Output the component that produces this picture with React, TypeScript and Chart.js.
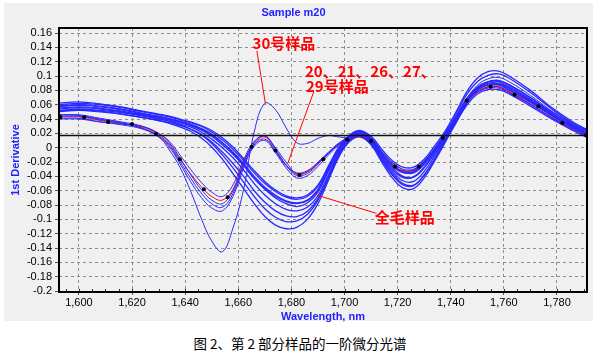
import React, { useEffect, useRef } from 'react';
import { Chart, registerables } from 'chart.js';

Chart.register(...registerables);

// Wavelength grid (nm) shared by all spectra
const WAVELENGTHS = [
  1592, 1600, 1608, 1616, 1624, 1630, 1634, 1638, 1642, 1646, 1650, 1654, 1658, 1662,
  1666, 1670, 1674, 1678, 1682, 1686, 1690, 1694, 1698, 1702, 1706, 1710, 1714, 1718,
  1722, 1726, 1730, 1734, 1738, 1742, 1746, 1750, 1754, 1758, 1762, 1770, 1778, 1786, 1791,
];

// 全毛样品 (wool samples)
const WOOL_1 = [0.055, 0.057, 0.055, 0.051, 0.046, 0.042, 0.039, 0.035, 0.031, 0.025, 0.016, 0.004, -0.009, -0.025, -0.043, -0.058, -0.070, -0.078, -0.082, -0.077, -0.062, -0.032, -0.003, 0.014, 0.020, 0.010, -0.011, -0.028, -0.040, -0.041, -0.028, -0.008, 0.015, 0.040, 0.065, 0.081, 0.088, 0.088, 0.081, 0.064, 0.045, 0.029, 0.020];
const WOOL_2 = [0.060, 0.062, 0.060, 0.056, 0.050, 0.046, 0.043, 0.039, 0.035, 0.030, 0.022, 0.011, -0.002, -0.018, -0.035, -0.050, -0.061, -0.069, -0.072, -0.068, -0.054, -0.027, 0.000, 0.017, 0.023, 0.014, -0.005, -0.021, -0.030, -0.030, -0.019, -0.001, 0.019, 0.043, 0.068, 0.084, 0.092, 0.093, 0.087, 0.070, 0.050, 0.033, 0.024];
const WOOL_3 = [0.052, 0.054, 0.052, 0.049, 0.044, 0.040, 0.037, 0.033, 0.029, 0.022, 0.012, 0.000, -0.014, -0.031, -0.050, -0.066, -0.078, -0.086, -0.088, -0.083, -0.067, -0.037, -0.006, 0.012, 0.018, 0.008, -0.014, -0.033, -0.046, -0.047, -0.033, -0.011, 0.013, 0.038, 0.062, 0.078, 0.085, 0.085, 0.078, 0.061, 0.042, 0.026, 0.017];
const WOOL_4 = [0.058, 0.060, 0.058, 0.054, 0.048, 0.044, 0.041, 0.037, 0.033, 0.027, 0.019, 0.007, -0.006, -0.022, -0.040, -0.055, -0.066, -0.074, -0.077, -0.073, -0.058, -0.030, -0.002, 0.015, 0.021, 0.012, -0.008, -0.024, -0.034, -0.035, -0.023, -0.004, 0.017, 0.041, 0.066, 0.083, 0.090, 0.090, 0.084, 0.067, 0.047, 0.031, 0.022];
const WOOL_5 = [0.050, 0.052, 0.050, 0.047, 0.042, 0.038, 0.035, 0.031, 0.026, 0.019, 0.008, -0.006, -0.022, -0.040, -0.060, -0.076, -0.088, -0.095, -0.096, -0.089, -0.071, -0.040, -0.008, 0.011, 0.016, 0.006, -0.017, -0.038, -0.052, -0.053, -0.038, -0.015, 0.010, 0.035, 0.059, 0.075, 0.081, 0.081, 0.075, 0.058, 0.040, 0.024, 0.015];
const WOOL_6 = [0.054, 0.056, 0.054, 0.050, 0.045, 0.041, 0.037, 0.032, 0.026, 0.018, 0.006, -0.010, -0.028, -0.048, -0.068, -0.085, -0.097, -0.103, -0.102, -0.093, -0.073, -0.042, -0.010, 0.010, 0.016, 0.006, -0.016, -0.036, -0.050, -0.052, -0.038, -0.015, 0.011, 0.037, 0.063, 0.080, 0.088, 0.089, 0.083, 0.066, 0.046, 0.029, 0.019];
const WOOL_7 = [0.051, 0.053, 0.051, 0.047, 0.042, 0.038, 0.034, 0.029, 0.023, 0.014, 0.001, -0.016, -0.036, -0.057, -0.078, -0.096, -0.108, -0.113, -0.111, -0.100, -0.078, -0.045, -0.012, 0.009, 0.015, 0.004, -0.020, -0.042, -0.056, -0.057, -0.042, -0.018, 0.008, 0.035, 0.062, 0.082, 0.092, 0.094, 0.088, 0.070, 0.048, 0.030, 0.020];
const WOOL_8 = [0.062, 0.064, 0.061, 0.057, 0.051, 0.047, 0.044, 0.040, 0.036, 0.031, 0.024, 0.014, 0.001, -0.015, -0.032, -0.047, -0.059, -0.067, -0.070, -0.066, -0.052, -0.025, 0.002, 0.018, 0.024, 0.016, -0.002, -0.018, -0.027, -0.027, -0.016, 0.003, 0.024, 0.050, 0.078, 0.097, 0.106, 0.107, 0.100, 0.080, 0.056, 0.036, 0.026];
const WOOL_9 = [0.057, 0.059, 0.057, 0.053, 0.047, 0.043, 0.040, 0.036, 0.032, 0.026, 0.018, 0.007, -0.007, -0.024, -0.042, -0.057, -0.068, -0.075, -0.078, -0.074, -0.059, -0.031, -0.003, 0.015, 0.022, 0.013, -0.007, -0.024, -0.033, -0.033, -0.021, -0.001, 0.021, 0.047, 0.074, 0.092, 0.101, 0.103, 0.097, 0.077, 0.054, 0.034, 0.025];

// 20、21、26、27、29号样品
const GROUP_B_1 = [0.046, 0.046, 0.041, 0.036, 0.030, 0.020, 0.007, -0.014, -0.037, -0.058, -0.073, -0.078, -0.060, -0.022, 0.007, 0.017, -0.002, -0.024, -0.039, -0.036, -0.023, -0.008, 0.006, 0.014, 0.018, 0.010, -0.009, -0.026, -0.035, -0.034, -0.022, -0.003, 0.016, 0.041, 0.065, 0.080, 0.087, 0.087, 0.080, 0.064, 0.045, 0.028, 0.019];
const GROUP_B_2 = [0.041, 0.041, 0.036, 0.032, 0.026, 0.016, 0.003, -0.019, -0.042, -0.063, -0.078, -0.083, -0.064, -0.025, 0.004, 0.012, -0.005, -0.025, -0.035, -0.032, -0.020, -0.006, 0.007, 0.015, 0.019, 0.011, -0.008, -0.025, -0.034, -0.033, -0.021, -0.002, 0.017, 0.042, 0.066, 0.081, 0.088, 0.088, 0.081, 0.065, 0.046, 0.029, 0.020];
const GROUP_B_3 = [0.044, 0.044, 0.039, 0.034, 0.027, 0.015, 0.001, -0.022, -0.047, -0.069, -0.084, -0.088, -0.068, -0.028, 0.002, 0.010, -0.007, -0.028, -0.042, -0.039, -0.026, -0.010, 0.004, 0.013, 0.017, 0.008, -0.012, -0.031, -0.042, -0.041, -0.028, -0.007, 0.013, 0.038, 0.062, 0.077, 0.083, 0.083, 0.076, 0.060, 0.042, 0.026, 0.017];
const GROUP_B_4 = [0.040, 0.040, 0.036, 0.033, 0.029, 0.020, 0.009, -0.010, -0.030, -0.048, -0.062, -0.068, -0.052, -0.017, 0.009, 0.016, 0.000, -0.020, -0.036, -0.033, -0.021, -0.007, 0.006, 0.014, 0.018, 0.010, -0.008, -0.024, -0.032, -0.031, -0.019, 0.000, 0.019, 0.044, 0.069, 0.085, 0.092, 0.092, 0.085, 0.068, 0.048, 0.030, 0.021];

// highlighted (red) sample
const RED_SAMPLE = [0.043, 0.043, 0.038, 0.034, 0.029, 0.018, 0.005, -0.016, -0.036, -0.054, -0.068, -0.073, -0.058, -0.020, 0.006, 0.015, -0.004, -0.024, -0.037, -0.034, -0.022, -0.008, 0.005, 0.013, 0.016, 0.009, -0.008, -0.024, -0.032, -0.031, -0.020, -0.002, 0.016, 0.040, 0.064, 0.078, 0.085, 0.085, 0.078, 0.063, 0.044, 0.027, 0.018];

// 30号样品
const SAMPLE_30 = [0.046, 0.045, 0.040, 0.035, 0.027, 0.016, -0.003, -0.027, -0.060, -0.098, -0.130, -0.145, -0.112, -0.058, 0.022, 0.062, 0.053, 0.028, 0.007, 0.006, 0.013, 0.017, 0.015, 0.014, 0.019, 0.010, -0.011, -0.030, -0.041, -0.040, -0.026, -0.005, 0.016, 0.042, 0.068, 0.087, 0.096, 0.098, 0.092, 0.073, 0.051, 0.032, 0.022];

// marker points on the red sample
const DOT_WL = [1593, 1602, 1611, 1620, 1629, 1638, 1647, 1656, 1665, 1674, 1683, 1692, 1701, 1710, 1719, 1728, 1737, 1746, 1755, 1764, 1773, 1782, 1791];
const DOT_VALUES = [0.043, 0.0425, 0.036, 0.033, 0.019, -0.016, -0.058, -0.069, 0.0014, -0.004, -0.038, -0.016, 0.0115, 0.0095, -0.0265, -0.0265, 0.0135, 0.066, 0.085, 0.074, 0.058, 0.0345, 0.0175];

const BASELINE = 0.017;
const X_MIN = 1592.5;
const X_MAX = 1791.3;
const Y_MIN = -0.2012;
const Y_MAX = 0.167;

const NOTE_TEXTS = ['30号样品', '20、21、26、27、', '29号样品', '全毛样品'];
const NOTE_X = [1665.4, 1685.1, 1685.5, 1711.4];
const NOTE_Y = [0.146, 0.107, 0.086, -0.0973];
const LEADERS = [
  [1667.0, 0.135, 1670.2, 0.062],
  [1688.4, 0.078, 1678.7, -0.021],
  [1689.5, -0.066, 1712.0, -0.0915],
];

const TITLE = 'Sample m20';
const X_TITLE = 'Wavelength, nm';
const Y_TITLE = '1st Derivative';
const CAPTION = '图 2、第 2 部分样品的一阶微分光谱';

const BLUE = 'rgb(40,40,255)';
const AXIS_BLUE = 'rgb(30,30,255)';
const FONT = '"Liberation Sans", Arial, sans-serif';

export default function App() {
  const canvasRef = useRef<HTMLCanvasElement | null>(null);

  useEffect(() => {
    const canvas = canvasRef.current;
    if (!canvas) return;
    const pts = (vals: number[]) => WAVELENGTHS.map((x, i) => ({ x, y: vals[i] }));
    const blueLine = (label: string, vals: number[], width = 1.3) => ({
      label,
      data: pts(vals),
      borderColor: BLUE,
      borderWidth: width,
      pointRadius: 0,
      tension: 0.4,
      fill: false,
    });

    const overlay = {
      id: 'overlay',
      afterDatasetsDraw(chart: any) {
        const { ctx, chartArea, scales } = chart;
        const xs = scales.x;
        const ys = scales.y;
        ctx.save();
        // minor ticks on x axis
        ctx.strokeStyle = '#333';
        ctx.lineWidth = 1;
        for (let w = 1595; w <= 1790; w += 5) {
          const px = Math.round(xs.getPixelForValue(w)) + 0.5;
          ctx.beginPath();
          ctx.moveTo(px, chartArea.bottom);
          ctx.lineTo(px, chartArea.bottom - 3);
          ctx.stroke();
        }
        // frame
        ctx.strokeStyle = '#000';
        ctx.lineWidth = 2;
        ctx.strokeRect(chartArea.left, chartArea.top, chartArea.right - chartArea.left, chartArea.bottom - chartArea.top);
        // leader lines
        ctx.strokeStyle = '#ff0000';
        ctx.lineWidth = 1;
        LEADERS.forEach((l) => {
          ctx.beginPath();
          ctx.moveTo(xs.getPixelForValue(l[0]), ys.getPixelForValue(l[1]));
          ctx.lineTo(xs.getPixelForValue(l[2]), ys.getPixelForValue(l[3]));
          ctx.stroke();
        });
        // notes
        ctx.fillStyle = '#ff0000';
        ctx.font = 'bold 15px "Noto Sans CJK SC", sans-serif';
        ctx.textAlign = 'left';
        ctx.textBaseline = 'middle';
        NOTE_TEXTS.forEach((t, i) => {
          ctx.fillText(t, xs.getPixelForValue(NOTE_X[i]), ys.getPixelForValue(NOTE_Y[i]));
        });
        ctx.restore();
      },
    };

    const chart = new Chart(canvas, {
      type: 'line',
      data: {
        datasets: [
          {
            label: 'markers',
            data: DOT_WL.map((x, i) => ({ x, y: DOT_VALUES[i] })),
            showLine: false,
            pointRadius: 2,
            pointBackgroundColor: '#000',
            pointBorderColor: '#000',
            pointBorderWidth: 0,
            borderColor: '#000',
          },
          {
            label: 'baseline',
            data: [
              { x: X_MIN, y: BASELINE },
              { x: X_MAX, y: BASELINE },
            ],
            borderColor: '#111',
            borderWidth: 1.5,
            pointRadius: 0,
          },
          blueLine('30', SAMPLE_30, 1),
          blueLine('B1', GROUP_B_1, 1),
          blueLine('B2', GROUP_B_2, 1),
          blueLine('B3', GROUP_B_3, 1),
          blueLine('W1', WOOL_1),
          blueLine('W2', WOOL_2),
          {
            label: 'red',
            data: pts(RED_SAMPLE),
            borderColor: '#ff0000',
            borderWidth: 1,
            pointRadius: 0,
            tension: 0.4,
          },
          blueLine('B4', GROUP_B_4, 1),
          blueLine('W3', WOOL_3),
          blueLine('W4', WOOL_4),
          blueLine('W5', WOOL_5),
          blueLine('W6', WOOL_6),
          blueLine('W7', WOOL_7),
          blueLine('W8', WOOL_8),
          blueLine('W9', WOOL_9),
        ] as any,
      },
      options: {
        responsive: false,
        animation: false,
        events: [],
        layout: { padding: { left: 0, right: 15, top: 0, bottom: 0 } },
        plugins: {
          legend: { display: false },
          tooltip: { enabled: false },
          title: {
            display: true,
            text: TITLE,
            color: AXIS_BLUE,
            font: { family: FONT, size: 11, weight: 'bold', lineHeight: 1.2 },
            padding: { top: 6, bottom: 8.8 },
          },
        },
        scales: {
          x: {
            type: 'linear',
            min: X_MIN,
            max: X_MAX,
            afterFit: (s: any) => {
              s.height = 32;
            },
            ticks: {
              stepSize: 20,
              includeBounds: false,
              autoSkip: false,
              color: '#000',
              padding: 1,
              maxRotation: 0,
              font: { family: FONT, size: 11 },
              callback: (v: any) => Number(v).toLocaleString('en-US'),
            },
            grid: {
              color: '#8c8c8c',
              lineWidth: 1,
              tickLength: 3,
              tickColor: '#555',
            },
            border: { display: false, dash: [3, 3] },
            title: {
              display: true,
              text: X_TITLE,
              color: AXIS_BLUE,
              font: { family: FONT, size: 11, weight: 'bold', lineHeight: 1.2 },
              padding: { top: 0, bottom: 0 },
            },
          },
          y: {
            type: 'linear',
            min: Y_MIN,
            max: Y_MAX,
            afterFit: (s: any) => {
              s.width = 59;
            },
            ticks: {
              stepSize: 0.02,
              includeBounds: false,
              autoSkip: false,
              color: '#000',
              padding: 3,
              font: { family: FONT, size: 11 },
              callback: (v: any) => String(Math.round(Number(v) * 100) / 100),
            },
            grid: {
              color: '#8c8c8c',
              lineWidth: 1,
              tickLength: 4,
              tickColor: '#555',
            },
            border: { display: false, dash: [3, 3] },
            title: {
              display: true,
              text: Y_TITLE,
              color: AXIS_BLUE,
              font: { family: FONT, size: 11, weight: 'bold', lineHeight: 1.2 },
              padding: { top: 9, bottom: 0 },
            },
          },
        },
      } as any,
      plugins: [overlay],
    });
    return () => chart.destroy();
  }, []);

  return (
    <div style={{ position: 'absolute', left: 0, top: 0, width: 602, height: 356, background: '#fff', overflow: 'hidden' }}>
      <div style={{ position: 'absolute', left: 4, top: 3, width: 589, height: 318, background: '#f0f0f0' }} />
      <canvas ref={canvasRef} width={602} height={324} style={{ position: 'absolute', left: 0, top: 0, width: 602, height: 324 }} />
      <div
        style={{
          position: 'absolute',
          left: 0,
          top: 335,
          width: 600,
          height: 16,
          lineHeight: '16px',
          textAlign: 'center',
          fontFamily: '"Noto Sans CJK SC", sans-serif',
          fontSize: 13.5,
          color: '#000',
        }}
      >
        {CAPTION}
      </div>
    </div>
  );
}
